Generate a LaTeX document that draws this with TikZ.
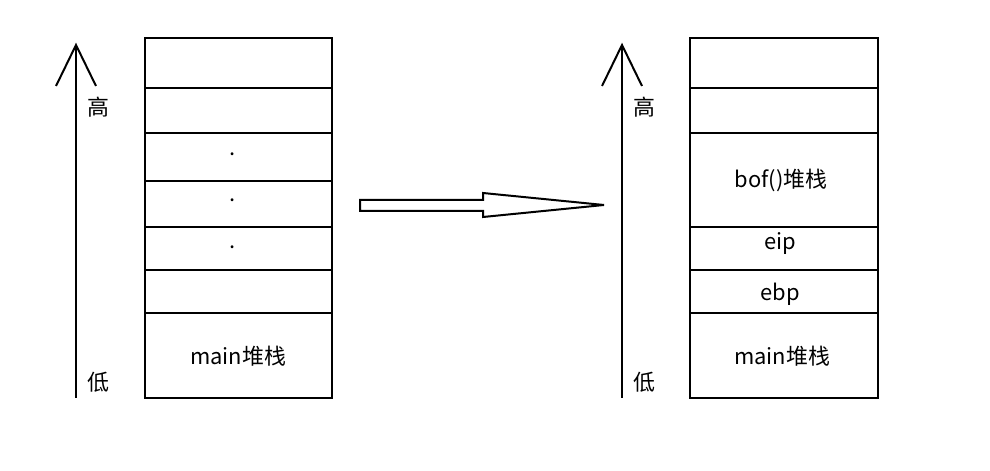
\documentclass[tikz,border=0pt]{standalone}
\usepackage{fontspec}
\setmainfont{Noto Sans CJK SC}
\begin{document}
\begin{tikzpicture}[x=0.0264583cm,y=-0.0264583cm,
  ln/.style={line width=1.5pt,black},
  lbl/.style={font=\fontsize{16.5pt}{19pt}\selectfont,inner sep=0pt},
  dotl/.style={font=\fontsize{16.5pt}{19pt}\selectfont,inner sep=0pt}]
\useasboundingbox (0,0) rectangle (990,471);
% left stack
\draw[ln] (145,38) rectangle (332,398);
\foreach \y in {88,133,181,227,270,313} \draw[ln] (145,\y) -- (332,\y);
\node[dotl] (d1) at (233,154) {.};
\node[dotl] (d2) at (233,200) {.};
\node[dotl] (d3) at (233,247) {.};
\node[lbl] (lm) at (238,356) {main堆栈};
% right stack
\draw[ln] (690,38) rectangle (878,398);
\foreach \y in {88,133,227,270,313} \draw[ln] (690,\y) -- (878,\y);
\node[lbl] (rb) at (781,180) {bof()堆栈};
\node[lbl] (re) at (780,244) {eip};
\node[lbl] (rp) at (780,294) {ebp};
\node[lbl] (rm) at (782,356) {main堆栈};
% vertical arrows
\foreach \x/\n in {76/l,622/r}{
  \coordinate (\n b) at (\x,398);
  \coordinate (\n t) at (\x,45);
  \draw[ln] (\n b) -- (\n t);
  \draw[ln] (\x-20,86) -- (\n t) -- (\x+20,86);
}
\node[lbl] (lh) at (98,107) {高};
\node[lbl] (ll) at (98,382) {低};
\node[lbl] (rh) at (644,107) {高};
\node[lbl] (rl) at (644,382) {低};
% hollow arrow
\draw[ln,line join=miter] (360,200) -- (483,200) -- (483,193) -- (604,205) -- (483,217) -- (483,211) -- (360,211) -- cycle;
\end{tikzpicture}
\end{document}
